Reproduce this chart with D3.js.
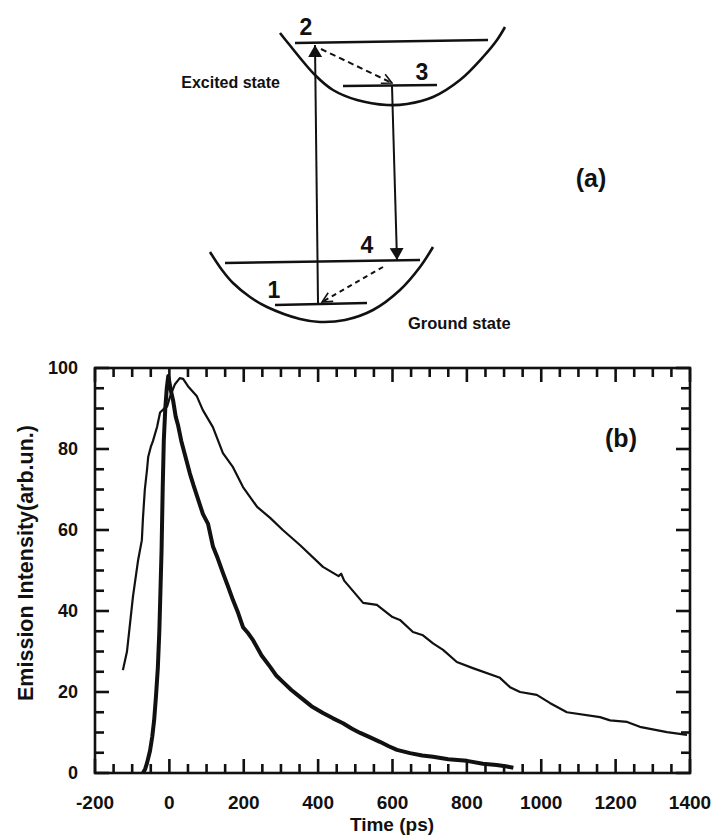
<!DOCTYPE html>
<html>
<head>
<meta charset="utf-8">
<script src="https://cdn.jsdelivr.net/npm/d3@7"></script>
<style>
  html, body { margin: 0; padding: 0; background: #fff; }
  svg { display: block; }
  text { font-family: "Liberation Sans", Arial, Helvetica, sans-serif; font-weight: bold; fill: #111; }
</style>
</head>
<body>
<svg id="fig" width="717" height="838"></svg>
<script>
// ---- Emission decay data: time (ps) and intensity (arb. un.) ----
const broadTime = [-125, -114, -98, -84, -74, -71, -66, -60, -57, -50, -44, -33, -25, -14, -6, 2, 15, 28, 37, 50, 74, 90, 117, 144, 171, 198, 236, 271, 305, 351, 413, 455, 462, 470, 521, 558, 600, 620, 655, 682, 709, 736, 773, 816, 889, 916, 943, 988, 1023, 1069, 1158, 1185, 1231, 1265, 1338, 1392];
const broadIntensity = [25.4, 30, 43.5, 52.6, 57.5, 63, 70, 75, 78, 80.5, 82, 85.5, 89, 90, 90.5, 93, 96, 97.5, 97.3, 95.5, 93, 89.6, 85.4, 79, 75.5, 70.6, 65.7, 63, 60, 56.3, 50.9, 48.6, 49.2, 47.5, 42, 41.5, 38.5, 37.8, 34.8, 34, 32, 30.4, 27.4, 25.9, 23.5, 21.2, 20, 19.3, 17.3, 15, 13.8, 13, 12.6, 11.4, 10.1, 9.4];

const sharpTime = [-71, -65, -60, -52, -46, -41, -36, -31, -27, -24, -21, -18, -15, -11, -7, -3, 1, 5, 10, 17, 23, 32, 42, 55, 65, 74, 90, 104, 117, 130, 144, 158, 171, 185, 198, 212, 225, 248, 271, 288, 305, 328, 351, 382, 413, 440, 467, 490, 513, 540, 566, 590, 612, 647, 680, 709, 750, 800, 843, 880, 908, 925];
const sharpIntensity = [0, 1, 2.5, 5.5, 9, 13, 19, 26, 35, 45, 55, 70, 82, 90, 95, 98, 96, 94, 92, 88, 86, 82, 78.5, 74, 71, 68.5, 64, 61.5, 56, 53, 49.4, 46, 42.7, 39.5, 36, 34.5, 32.8, 29, 26.2, 24, 22.5, 20.5, 18.8, 16.5, 14.8, 13.5, 12.3, 11, 9.9, 8.8, 7.7, 6.6, 5.7, 4.9, 4.3, 4.0, 3.4, 3.0, 2.3, 2.0, 1.6, 1.3];

const xTickValues = [-200, 0, 200, 400, 600, 800, 1000, 1200, 1400];
const yTickValues = [0, 20, 40, 60, 80, 100];

// ---- Energy-level sketch geometry (panel a) ----
const upperWell = [[280,33],[288,43],[315,75],[333,90],[357,100],[387,105],[407,104],[433,97],[460,80],[483,57],[497,40],[505,27]];
const lowerWell = [[210,252],[222,270],[233,283],[250,297],[267,307],[300,319],[320,322],[345,320],[373,310],[400,290],[420,267],[433,247]];
const levels = [ [[295,43],[488,40]], [[343,86],[437,85]], [[225,263],[420,260]], [[275,305],[367,303]] ];
const levelLabels = [["2",306,35],["3",422,80],["4",367,253],["1",274,298]];

const svg = d3.select("#fig");
const ink = "#111";

// ---- panel (b) frame, ticks and curves ----
const plotLeft = 95, plotRight = 690, plotTop = 368, plotBottom = 773;
const x = d3.scaleLinear().domain([-200, 1400]).range([plotLeft, plotRight]);
const y = d3.scaleLinear().domain([0, 100]).range([plotBottom, plotTop]);

const minorX = d3.range(-200, 1401, 50).filter(v => v % 200 !== 0);
const minorY = d3.range(0, 101, 5).filter(v => v % 20 !== 0);

const xTicks = xTickValues.map(v => ({ v: v, len: 14 })).concat(minorX.map(v => ({ v: v, len: 9 })));
const yTicks = yTickValues.map(v => ({ v: v, len: 14 })).concat(minorY.map(v => ({ v: v, len: 9 })));

svg.append("rect").attr("x",plotLeft).attr("y",plotTop).attr("width",plotRight-plotLeft).attr("height",plotBottom-plotTop)
  .attr("fill","none").attr("stroke",ink).attr("stroke-width",2.6);

// inward ticks on all four sides
svg.selectAll("line.tb").data(xTicks).join("line").attr("class","tb")
  .attr("x1", d => x(d.v)).attr("x2", d => x(d.v)).attr("y1", plotBottom).attr("y2", d => plotBottom - d.len);
svg.selectAll("line.tt").data(xTicks).join("line").attr("class","tt")
  .attr("x1", d => x(d.v)).attr("x2", d => x(d.v)).attr("y1", plotTop).attr("y2", d => plotTop + d.len);
svg.selectAll("line.tl").data(yTicks).join("line").attr("class","tl")
  .attr("y1", d => y(d.v)).attr("y2", d => y(d.v)).attr("x1", plotLeft).attr("x2", d => plotLeft + d.len);
svg.selectAll("line.tr").data(yTicks).join("line").attr("class","tr")
  .attr("y1", d => y(d.v)).attr("y2", d => y(d.v)).attr("x1", plotRight).attr("x2", d => plotRight - d.len);
svg.selectAll("line.tb, line.tt, line.tl, line.tr").attr("stroke", ink).attr("stroke-width", 2.6);

svg.selectAll("text.xl").data(xTickValues).join("text").attr("class","xl")
  .attr("x", d => x(d)).attr("y", 809).attr("text-anchor","middle").style("font-size","19px")
  .text(d => String(d));
svg.selectAll("text.yl").data(yTickValues).join("text").attr("class","yl")
  .attr("x", 78).attr("y", d => y(d)).attr("dy","0.36em").attr("text-anchor","end").style("font-size","18px")
  .text(d => String(d));

const curve = d3.line().x(d => x(d[0])).y(d => y(d[1]));
svg.append("path").datum(d3.zip(broadTime, broadIntensity))
  .attr("d", curve).attr("fill","none").attr("stroke",ink).attr("stroke-width",2.2).attr("stroke-linejoin","round");
svg.append("path").datum(d3.zip(sharpTime, sharpIntensity))
  .attr("d", curve).attr("fill","none").attr("stroke",ink).attr("stroke-width",4).attr("stroke-linejoin","round");

svg.append("text").attr("x", 392).attr("y", 831).attr("text-anchor","middle").style("font-size","19px").text("Time (ps)");
svg.append("text").attr("transform","translate(33,563) rotate(-90)").attr("text-anchor","middle")
  .style("font-size","21.5px").text("Emission Intensity(arb.un.)");
svg.append("text").attr("x", 621).attr("y", 447).attr("text-anchor","middle").style("font-size","25px").text("(b)");

// ---- panel (a): energy-level sketch ----
const defs = svg.append("defs");
defs.append("marker").attr("id","solidHead").attr("viewBox","0 0 12 20")
  .attr("refX",12).attr("refY",10).attr("markerWidth",12).attr("markerHeight",20)
  .attr("markerUnits","userSpaceOnUse").attr("orient","auto")
  .append("path").attr("d","M0,3 L12,10 L0,17 Z").attr("fill",ink);
defs.append("marker").attr("id","openHead").attr("viewBox","0 0 12 12")
  .attr("refX",11).attr("refY",6).attr("markerWidth",12).attr("markerHeight",12)
  .attr("markerUnits","userSpaceOnUse").attr("orient","auto")
  .append("path").attr("d","M1,1 L11,6 L1,11").attr("fill","none").attr("stroke",ink).attr("stroke-width",1.6);

const wellLine = d3.line().curve(d3.curveCatmullRom.alpha(0.5));
const gA = svg.append("g");
gA.append("path").attr("d", wellLine(upperWell)).attr("fill","none").attr("stroke",ink).attr("stroke-width",2.6);
gA.append("path").attr("d", wellLine(lowerWell)).attr("fill","none").attr("stroke",ink).attr("stroke-width",2.6);
levels.forEach(l => gA.append("line")
  .attr("x1",l[0][0]).attr("y1",l[0][1]).attr("x2",l[1][0]).attr("y2",l[1][1])
  .attr("stroke",ink).attr("stroke-width",2.4));
// absorption 1 -> 2 and emission 3 -> 4
gA.append("line").attr("x1",318).attr("y1",303).attr("x2",315).attr("y2",45)
  .attr("stroke",ink).attr("stroke-width",2).attr("marker-end","url(#solidHead)");
gA.append("line").attr("x1",392).attr("y1",86).attr("x2",397).attr("y2",260)
  .attr("stroke",ink).attr("stroke-width",2).attr("marker-end","url(#solidHead)");
// non-radiative relaxation 2 -> 3 and 4 -> 1
gA.append("line").attr("x1",321).attr("y1",49).attr("x2",392).attr("y2",83)
  .attr("stroke",ink).attr("stroke-width",2).attr("stroke-dasharray","6,4").attr("marker-end","url(#openHead)");
gA.append("line").attr("x1",383).attr("y1",267).attr("x2",322).attr("y2",302)
  .attr("stroke",ink).attr("stroke-width",2).attr("stroke-dasharray","5,4").attr("marker-end","url(#openHead)");
levelLabels.forEach(d => gA.append("text").attr("x",d[1]).attr("y",d[2])
  .attr("text-anchor","middle").style("font-size","23px").text(d[0]));
gA.append("text").attr("x",280).attr("y",88).attr("text-anchor","end").style("font-size","16px").text("Excited state");
gA.append("text").attr("x",408).attr("y",329).style("font-size","16.5px").text("Ground state");
gA.append("text").attr("x",591).attr("y",187).attr("text-anchor","middle").style("font-size","25px").text("(a)");
</script>
</body>
</html>
